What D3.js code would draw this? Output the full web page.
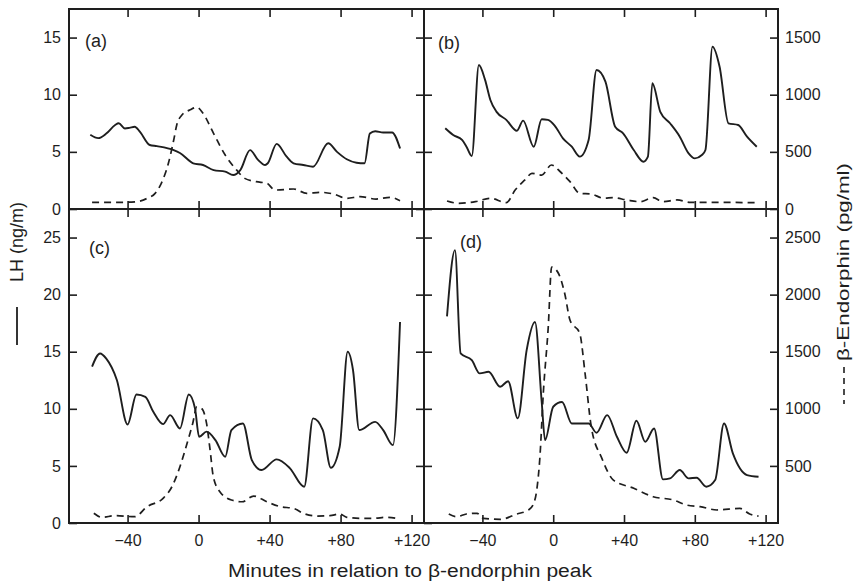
<!DOCTYPE html>
<html>
<head>
<meta charset="utf-8">
<script src="https://cdn.jsdelivr.net/npm/d3@7"></script>
<style>
  body { margin: 0; background: #fff; }
  svg { font-family: "Liberation Sans", Arial, sans-serif; }
</style>
</head>
<body>
<div id="chart"></div>
<script>
// ----------------------------------------------------------------------
// values: [minutes, value]; LH in ng/ml, b-endorphin in pg/ml

const xTicks = [-40, 0, 40, 80, 120];
const xTickLabels = ["\u221240", "0", "+40", "+80", "+120"];
const lhTicksTop = [0, 5, 10, 15];
const lhTicksBottom = [0, 5, 10, 15, 20, 25];
const beTicksTop = [0, 500, 1000, 1500];
const beTicksBottom = [500, 1000, 1500, 2000, 2500];

const lhA = [[-61,6.5],[-56.5,6.2],[-52,6.6],[-47,7.35],[-45,7.5],[-41.5,7.05],[-39,7.1],[-36,7.2],[-33,6.75],
  [-27.5,5.6],[-23.5,5.5],[-14,5.15],[-10.5,4.9],[-3,4.0],[2.5,3.85],[8.5,3.4],[15,3.27],[19.5,2.97],[23.5,3.4],
  [29,5.15],[33.5,4.3],[37.5,3.85],[39,4.0],[44,5.7],[49.5,4.6],[53.5,4.0],[59,3.85],[64.5,3.7],[73,5.75],
  [78,5.0],[83.5,4.35],[89,4.05],[93.5,4.0],[96.5,6.6],[99.5,6.8],[104,6.7],[109,6.7],[113.5,5.3]];
const beA = [[-60,58],[-52,58],[-44,58],[-35,64],[-29,93],[-24.5,137],[-21,225],[-17,400],[-14,604],[-12.3,735],
  [-9.5,820],[-5,866],[-1,890],[2.5,837],[8.5,660],[15,472],[21.5,340],[26,268],[32.5,239],[38.5,225],[43,166],
  [53.5,175],[61,137],[68.5,146],[76,131],[83.5,93],[91,108],[100,87],[108,102],[113.5,73]];

const lhB = [[-61,7.06],[-56.5,6.47],[-51.5,6.04],[-49,5.45],[-46,4.64],[-42,12.6],[-38.5,11.3],[-35.5,9.54],
  [-32,8.5],[-26.5,7.8],[-20.5,6.85],[-17,7.73],[-11,5.45],[-6.5,7.85],[-3,7.8],[1,7.26],[5.5,6.18],[10.5,5.45],
  [15,4.58],[20,6.04],[24.5,12.16],[29.5,11.14],[35,7.2],[39.5,6.62],[45.5,5.16],[51,4.14],[53.5,4.58],[56,11.0],
  [60.5,8.5],[66,7.5],[71.5,6.33],[76.5,4.87],[80,4.43],[84,4.72],[86,5.16],[90,14.2],[94,12.45],[99,7.5],
  [104.5,7.35],[109.5,6.33],[115,5.45]];
const beB = [[-60,70],[-53.5,50],[-44,64],[-35.5,94],[-26.5,55],[-21.5,166],[-16,254],[-12,312],[-6.5,297],
  [-1,385],[4,326],[9.5,239],[15,137],[21.5,131],[28.5,94],[34,99],[41.5,79],[49,64],[56.5,99],[62,64],
  [70,79],[77.5,58],[92.5,58],[115,55]];

const lhC = [[-60,13.7],[-55.5,14.85],[-52,14.4],[-46,12.5],[-40,8.63],[-35,11.26],[-30,11.05],[-25.5,9.74],
  [-20,8.66],[-16,9.45],[-10.5,8.28],[-5.5,11.26],[-2,10.03],[0.3,7.55],[4.5,8.0],[9.5,7.26],[15,5.8],[18.5,8.14],
  [25,8.72],[30,5.51],[35.5,4.64],[44,5.57],[51.5,4.79],[59.5,3.18],[64.5,9.16],[70,8.14],[74.5,4.84],[79.5,6.68],
  [84,15.0],[87,13.4],[90.5,8.14],[99.5,8.86],[104,8.14],[109.5,6.82],[113.5,17.6]];
const beC = [[-59,85],[-54.5,50],[-47,64],[-36,55],[-29,143],[-20,216],[-15,318],[-10.5,493],[-6.5,697],
  [-3.3,872],[-1,1017],[1.7,1003],[4.5,872],[6.5,639],[8.3,405],[12,274],[18.5,201],[24.5,186],[31,236],
  [38.5,186],[46,143],[53.5,128],[59,85],[66.5,61],[74,64],[79.5,79],[83.5,50],[91,41],[98.5,41],[106,50],[113.5,35]];

const lhD = [[-60,18.1],[-55.5,23.9],[-52.3,14.85],[-46,14.26],[-41.5,13.1],[-36.5,13.24],[-30,11.93],[-25.5,12.42],
  [-20,9.16],[-15,15.14],[-10.3,17.6],[-6.5,10.6],[-4.6,7.26],[0,10.18],[5,10.6],[10.5,8.72],[20,8.72],[24.5,7.9],
  [30.5,9.45],[36,7.55],[41.5,6.15],[47,8.95],[52,7.11],[57,8.28],[62,3.82],[66,3.91],[71.5,4.64],[76.5,3.91],
  [81,3.96],[86.5,3.18],[91.5,3.76],[96.5,8.72],[101.5,6.1],[109.5,4.2],[116,4.05]];
const beD = [[-59,79],[-54.5,55],[-49,79],[-43,85],[-39.5,41],[-30,32],[-20.5,79],[-14,114],[-11,172],[-9.3,289],
  [-7.5,580],[-5.6,1135],[-2.8,1717],[-0.9,2242],[3,2185],[6.5,2010],[9.5,1776],[15,1660],[18,1310],[21.5,843],
  [27.5,566],[34,376],[45.5,304],[56.5,230],[68,201],[75.5,157],[83,143],[92.5,114],[105.5,128],[111,79],[116,61]];

// ----------------------------------------------------------------------

const width = 855, height = 585;
const ink = "#1e1e1e";

const svg = d3.select("#chart").append("svg")
    .attr("width", width)
    .attr("height", height);

const xLeft = d3.scaleLinear().domain([-73, 127]).range([69, 424]);
const xRight = d3.scaleLinear().domain([-73, 127]).range([424, 778]);
const yTopLH = d3.scaleLinear().domain([0, 17.5]).range([209, 9]);
const yTopBE = d3.scaleLinear().domain([0, 1750]).range([209, 9]);
const yBotLH = d3.scaleLinear().domain([0, 27.5]).range([523, 209]);
const yBotBE = d3.scaleLinear().domain([0, 2750]).range([523, 209]);

const panels = [
    {id: "(a)", x: xLeft, yl: yTopLH, yb: yTopBE, lh: lhA, be: beA, lhTicks: lhTicksTop, beTicks: beTicksTop,
     showLeft: true, showRight: false, showBottom: false, lab: [85, 47]},
    {id: "(b)", x: xRight, yl: yTopLH, yb: yTopBE, lh: lhB, be: beB, lhTicks: lhTicksTop, beTicks: beTicksTop,
     showLeft: false, showRight: true, showBottom: false, lab: [438, 49]},
    {id: "(c)", x: xLeft, yl: yBotLH, yb: yBotBE, lh: lhC, be: beC, lhTicks: lhTicksBottom, beTicks: beTicksBottom,
     showLeft: true, showRight: false, showBottom: true, lab: [89, 254]},
    {id: "(d)", x: xRight, yl: yBotLH, yb: yBotBE, lh: lhD, be: beD, lhTicks: lhTicksBottom, beTicks: beTicksBottom,
     showLeft: false, showRight: true, showBottom: true, lab: [460, 248]}
];

function styleAxis(g) {
    g.select(".domain").remove();
    g.selectAll(".tick line").attr("stroke", ink).attr("stroke-width", 1.6);
    g.selectAll(".tick text").attr("fill", ink).attr("font-size", 16);
}

panels.forEach(function(p) {
    const x0 = p.x.range()[0], x1 = p.x.range()[1];
    const y0 = p.yl.range()[0], y1 = p.yl.range()[1];

    // left LH ticks (inward)
    svg.append("g")
        .attr("transform", "translate(" + x0 + ",0)")
        .call(d3.axisLeft(p.yl).tickValues(p.lhTicks).tickSizeInner(-8).tickSizeOuter(0).tickPadding(8)
              .tickFormat(p.showLeft ? d3.format("d") : ""))
        .call(styleAxis);

    // right b-endorphin ticks (inward)
    svg.append("g")
        .attr("transform", "translate(" + x1 + ",0)")
        .call(d3.axisRight(p.yb).tickValues(p.beTicks).tickSizeInner(-8).tickSizeOuter(0).tickPadding(7)
              .tickFormat(p.showRight ? d3.format("d") : ""))
        .call(styleAxis);

    // top and bottom minute ticks (inward)
    svg.append("g")
        .attr("transform", "translate(0," + y1 + ")")
        .call(d3.axisTop(p.x).tickValues(xTicks).tickSizeInner(-8).tickSizeOuter(0).tickFormat(""))
        .call(styleAxis);
    svg.append("g")
        .attr("transform", "translate(0," + y0 + ")")
        .call(d3.axisBottom(p.x).tickValues(xTicks).tickSizeInner(-8).tickSizeOuter(0).tickPadding(12)
              .tickFormat(function(d, i) { return p.showBottom ? xTickLabels[i] : ""; }))
        .call(styleAxis);

    // frame
    svg.append("rect")
        .attr("x", x0).attr("y", y1)
        .attr("width", x1 - x0).attr("height", y0 - y1)
        .attr("fill", "none").attr("stroke", ink).attr("stroke-width", 2);

    const lhLine = d3.line()
        .x(function(d) { return p.x(d[0]); })
        .y(function(d) { return p.yl(d[1]); })
        .curve(d3.curveMonotoneX);
    const beLine = d3.line()
        .x(function(d) { return p.x(d[0]); })
        .y(function(d) { return p.yb(d[1]); })
        .curve(d3.curveMonotoneX);

    svg.append("path")
        .datum(p.be)
        .attr("d", beLine)
        .attr("fill", "none").attr("stroke", ink).attr("stroke-width", 1.7)
        .attr("stroke-dasharray", "7,5");

    svg.append("path")
        .datum(p.lh)
        .attr("d", lhLine)
        .attr("fill", "none").attr("stroke", ink).attr("stroke-width", 1.9)
        .attr("stroke-linejoin", "round");

    svg.append("text")
        .attr("x", p.lab[0]).attr("y", p.lab[1])
        .attr("font-size", 18).attr("fill", ink)
        .text(p.id);
});

// axis titles
svg.append("text")
    .attr("transform", "translate(23,242) rotate(-90)")
    .attr("text-anchor", "middle")
    .attr("font-size", 18).attr("fill", ink)
    .text("LH (ng/m)");
svg.append("line")
    .attr("x1", 17).attr("x2", 17).attr("y1", 307).attr("y2", 345)
    .attr("stroke", ink).attr("stroke-width", 1.8);

svg.append("text")
    .attr("transform", "translate(849,262) rotate(-90)")
    .attr("text-anchor", "middle")
    .attr("font-size", 17).attr("fill", ink)
    .attr("textLength", 198).attr("lengthAdjust", "spacingAndGlyphs")
    .text("\u03B2-Endorphin (pg/ml)");
svg.append("line")
    .attr("x1", 844).attr("x2", 844).attr("y1", 367).attr("y2", 404)
    .attr("stroke", ink).attr("stroke-width", 1.6)
    .attr("stroke-dasharray", "6,5");

svg.append("text")
    .attr("x", 410).attr("y", 577)
    .attr("text-anchor", "middle")
    .attr("font-size", 18).attr("fill", ink)
    .attr("textLength", 364).attr("lengthAdjust", "spacingAndGlyphs")
    .text("Minutes in relation to \u03B2-endorphin peak");
</script>
</body>
</html>
